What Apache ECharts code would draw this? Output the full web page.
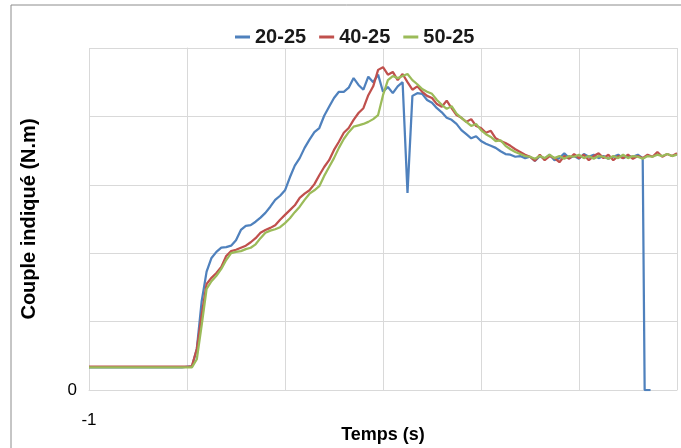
<!DOCTYPE html>
<html>
<head>
<meta charset="utf-8">
<script src="https://cdn.jsdelivr.net/npm/echarts@6/dist/echarts.min.js"></script>
<style>
  html, body { margin: 0; padding: 0; background: #fff; }
  #chart { width: 681px; height: 448px; }
</style>
</head>
<body>
<div id="chart"></div>
<script>
// sampling grid of the recorded curves (seconds)
const tStart = -1, tStep = 0.05, tCount = 121;
const time = [];
for (let i = 0; i < tCount; i++) time.push(+(tStart + i * tStep).toFixed(2));

const seriesNames = ['20-25', '40-25', '50-25'];

// couple (N.m), one value per time sample
const blueValues = [
  3.3,3.3,3.3,3.3,3.3,3.3,3.3,3.3,3.3,3.3, 3.3,3.3,3.3,3.3,3.3,3.3,3.3,3.3,3.3,3.3,
  3.4,3.4,6.0,13.0,17.3,19.3,20.2,20.8,20.9,21.1,
  21.9,23.4,24.0,24.1,24.6,25.2,25.9,26.8,27.8,28.4,
  29.2,31.1,32.8,33.9,35.4,36.6,37.7,38.3,40.1,41.4,
  42.7,43.6,43.6,44.2,45.6,44.6,43.9,45.8,45.0,46.1,
  43.6,44.3,43.4,44.4,45.0,28.8,43.0,43.4,43.3,42.4,
  42.0,41.2,40.6,39.8,39.5,38.9,38.0,37.4,36.8,37.1,
  36.4,36.0,35.7,35.4,34.9,34.5,34.4,34.1,34.2,33.9,
  34.1,33.5,34.2,33.8,34.4,33.6,33.9,34.6,33.9,34.2,
  33.8,34.5,34.1,34.4,33.9,34.2,33.8,34.1,34.4,33.9,
  34.2,34.1,34.4,33.9
];
// end of the 20-25 record: sensor drops to zero
const blueEndTime = [4.67, 4.67, 4.73];
const blueEndValues = [34.0, 0, 0];

const redValues = [
  3.4,3.4,3.4,3.4,3.4,3.4,3.4,3.4,3.4,3.4, 3.4,3.4,3.4,3.4,3.4,3.4,3.4,3.4,3.4,3.4,
  3.4,3.5,6.0,11.0,15.5,16.4,17.1,18.0,19.6,20.3,
  20.5,20.8,21.1,21.6,22.2,23.0,23.4,23.7,24.1,24.9,
  25.6,26.3,27.0,28.1,28.7,29.2,30.1,31.4,32.6,33.6,
  35.1,36.3,37.6,38.3,39.5,40.5,41.2,43.1,44.4,46.8,
  47.2,46.1,46.5,45.3,46.2,45.0,43.9,44.4,43.6,43.0,
  42.7,41.8,41.4,42.3,41.2,40.2,39.8,39.2,39.6,38.6,
  38.3,37.6,37.9,36.8,36.4,36.1,35.7,35.2,34.8,34.4,
  34.1,33.5,34.4,33.6,34.2,33.9,33.3,34.2,33.8,34.5,
  33.9,34.4,33.6,34.2,34.6,33.9,34.4,33.6,34.2,33.9,
  34.4,33.8,34.2,33.9,34.4,34.1,34.8,34.1,34.5,34.2,
  34.6
];

const greenValues = [
  3.3,3.3,3.3,3.3,3.3,3.3,3.3,3.3,3.3,3.3, 3.3,3.3,3.3,3.3,3.3,3.3,3.3,3.3,3.3,3.3,
  3.3,3.3,4.5,9.5,14.8,15.9,16.7,17.7,19.0,20.0,
  20.2,20.3,20.6,20.8,21.3,22.2,23.0,23.3,23.5,23.8,
  24.4,25.1,26.0,26.8,27.8,28.7,29.2,29.8,31.3,32.6,
  33.9,35.4,36.7,37.7,38.5,38.7,38.9,39.2,39.6,40.2,
  43.1,45.3,45.9,45.6,45.9,46.2,45.3,44.7,44.0,43.6,
  43.3,42.4,41.7,41.1,41.5,40.4,39.8,39.2,38.6,38.9,
  38.0,37.4,37.0,36.4,36.5,35.7,35.2,34.8,34.5,34.2,
  34.1,33.8,34.2,33.9,34.4,33.9,34.2,33.8,34.2,34.1,
  34.4,33.9,34.2,33.8,34.2,34.1,33.8,34.2,33.9,34.4,
  33.9,34.2,34.1,33.8,34.2,34.1,34.4,34.2,34.5,34.2,
  34.4
];

const zip = (xs, ys) => ys.map((y, i) => [xs[i], y]);
const blueData = zip(time, blueValues).concat(zip(blueEndTime, blueEndValues));

const colors = ['#4F81BD', '#C0504D', '#9BBB59'];
const gridColor = '#d9d9d9';
const font = 'Liberation Sans, Arial, sans-serif';

const chart = echarts.init(document.getElementById('chart'));

const lineSeries = (name, data, color) => ({
    name: name,
    type: 'line',
    data: data,
    showSymbol: false,
    symbol: 'none',
    lineStyle: {width: 2.25, color: color},
    itemStyle: {color: color}
});

chart.setOption({
    animation: false,
    graphic: [{
        type: 'rect',
        shape: {x: 11, y: 5, width: 1000, height: 1000},
        style: {fill: 'none', stroke: '#8c8c8c', lineWidth: 1}
    }],
    legend: {
        left: 230,
        top: 22,
        icon: 'rect',
        itemWidth: 15,
        itemHeight: 3,
        itemGap: 13,
        textStyle: {fontFamily: font, fontWeight: 'bold', fontSize: 20, color: '#1a1a1a'},
        data: seriesNames
    },
    grid: {left: 89, right: 4, top: 48, bottom: 58, outerBoundsMode: 'none'},
    xAxis: {
        type: 'value',
        min: -1,
        max: 5,
        interval: 1,
        name: 'Temps (s)',
        nameLocation: 'middle',
        nameGap: 36,
        nameMoveOverlap: false,
        nameTextStyle: {fontFamily: font, fontWeight: 'bold', fontSize: 18, color: '#000'},
        axisLine: {lineStyle: {color: gridColor}},
        axisTick: {show: false},
        splitLine: {show: true, lineStyle: {color: gridColor, width: 1}},
        axisLabel: {
            margin: 22,
            fontFamily: font,
            fontSize: 17,
            color: '#000',
            formatter: (v) => (v === -1 ? '-1' : '')
        }
    },
    yAxis: {
        type: 'value',
        min: 0,
        max: 50,
        interval: 10,
        name: 'Couple indiqué (N.m)',
        nameLocation: 'middle',
        nameGap: 50,
        nameMoveOverlap: false,
        nameTextStyle: {fontFamily: font, fontWeight: 'bold', fontSize: 20, color: '#000'},
        axisLine: {show: true, lineStyle: {color: gridColor}},
        axisTick: {show: false},
        splitLine: {show: true, lineStyle: {color: gridColor, width: 1}},
        axisLabel: {
            margin: 12,
            fontFamily: font,
            fontSize: 17,
            color: '#000',
            formatter: (v) => (v === 0 ? '0' : '')
        }
    },
    series: [
        lineSeries(seriesNames[0], blueData, colors[0]),
        lineSeries(seriesNames[1], zip(time, redValues), colors[1]),
        lineSeries(seriesNames[2], zip(time, greenValues), colors[2])
    ]
});
</script>
</body>
</html>
